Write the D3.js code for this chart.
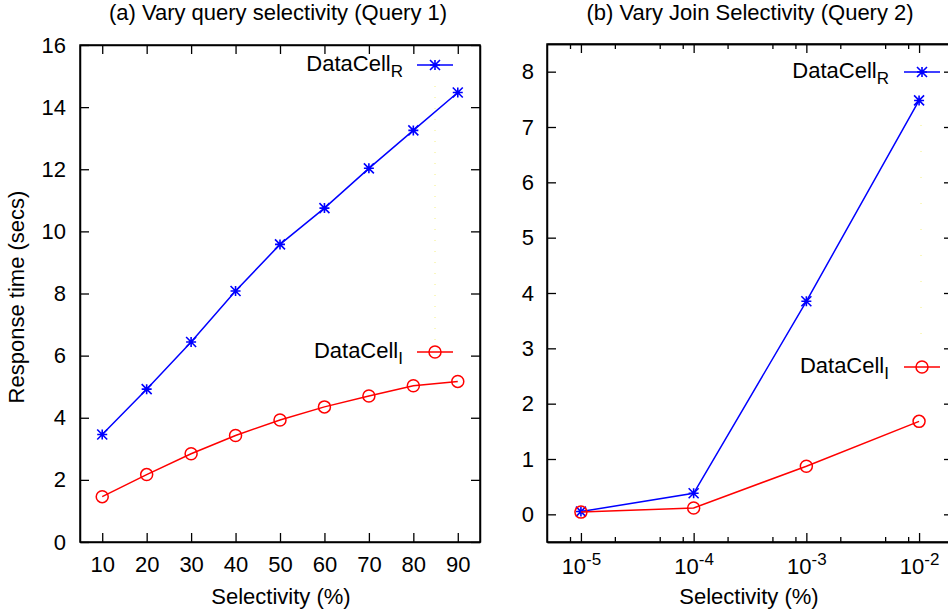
<!DOCTYPE html>
<html>
<head>
<meta charset="utf-8">
<script src="https://cdn.jsdelivr.net/npm/d3@7"></script>
<style>
  body { margin: 0; background: #fff; }
  svg { font-family: "Liberation Sans", Arial, sans-serif; }
</style>
</head>
<body>
<div id="chart"></div>
<script>
// panel (a): vary query selectivity
var selA = [10, 20, 30, 40, 50, 60, 70, 80, 90];
var cellR_A = [3.46, 4.92, 6.44, 8.08, 9.58, 10.75, 12.03, 13.25, 14.47];
var cellI_A = [1.46, 2.17, 2.84, 3.43, 3.93, 4.35, 4.70, 5.03, 5.17];
var yTicksA = [0, 2, 4, 6, 8, 10, 12, 14, 16];

// panel (b): vary join selectivity
var selB = [1e-5, 1e-4, 1e-3, 1e-2];
var cellR_B = [0.05, 0.38, 3.85, 7.48];
var cellI_B = [0.04, 0.115, 0.87, 1.68];
var yTicksB = [0, 1, 2, 3, 4, 5, 6, 7, 8];
var minorB = [8e-6, 2e-5, 5e-5, 8e-5, 2e-4, 5e-4, 8e-4, 2e-3, 5e-3, 8e-3];

var titles = ["(a) Vary query selectivity (Query 1)", "(b) Vary Join Selectivity (Query 2)"];

var svg = d3.select("#chart").append("svg")
    .attr("width", 948)
    .attr("height", 612);

var FS = 22;

function star(g, x, y, color) {
    var r = 5;
    var p = "M" + (x - r) + "," + y + "H" + (x + r) +
        "M" + x + "," + (y - r) + "V" + (y + r) +
        "M" + (x - r) + "," + (y - r) + "L" + (x + r) + "," + (y + r) +
        "M" + (x - r) + "," + (y + r) + "L" + (x + r) + "," + (y - r);
    g.append("path").attr("d", p).attr("stroke", color).attr("stroke-width", 1.6).attr("fill", "none");
}

function ring(g, x, y, color) {
    g.append("circle").attr("cx", x).attr("cy", y).attr("r", 6)
        .attr("stroke", color).attr("stroke-width", 1.5).attr("fill", "none");
}

function legendEntry(g, xText, y, sub, color, marker, xLine0, xLine1) {
    var t = g.append("text").attr("x", xText).attr("y", y + 5.5)
        .attr("text-anchor", "end").attr("font-size", FS);
    t.append("tspan").text("DataCell");
    t.append("tspan").attr("dy", 6).attr("font-size", 17).text(sub);
    g.append("line").attr("x1", xLine0).attr("x2", xLine1).attr("y1", y).attr("y2", y)
        .attr("stroke", color).attr("stroke-width", 1.5);
    marker(g, (xLine0 + xLine1) / 2, y, color);
}

function drawSeries(g, xs, ys, x, y, color, marker) {
    var pts = xs.map(function(d, i) { return [x(d), y(ys[i])]; });
    g.append("path").attr("d", d3.line()(pts))
        .attr("fill", "none").attr("stroke", color).attr("stroke-width", 1.5);
    pts.forEach(function(p) { marker(g, p[0], p[1], color); });
}

// ---------- panel (a) ----------
var xA = d3.scaleLinear().domain([5, 95]).range([80, 480]);
var yA = d3.scaleLinear().domain([0, 16]).range([542, 45]);

var gA = svg.append("g");

gA.append("g").attr("transform", "translate(0,542)")
    .call(d3.axisBottom(xA).tickValues(selA).tickSize(-9).tickPadding(14).tickSizeOuter(0));
gA.append("g").attr("transform", "translate(0,45)")
    .call(d3.axisTop(xA).tickValues(selA).tickSize(-9).tickFormat("").tickSizeOuter(0));
gA.append("g").attr("transform", "translate(80,0)")
    .call(d3.axisLeft(yA).tickValues(yTicksA).tickSize(-9).tickPadding(14).tickSizeOuter(0));
gA.append("g").attr("transform", "translate(480,0)")
    .call(d3.axisRight(yA).tickValues(yTicksA).tickSize(-9).tickFormat("").tickSizeOuter(0));

gA.append("rect").attr("x", 80).attr("y", 45).attr("width", 400).attr("height", 497)
    .attr("fill", "none").attr("stroke", "#000").attr("stroke-width", 1.5);

// faint dotted guide between legend entries
gA.append("line").attr("x1", 435).attr("x2", 435).attr("y1", 86).attr("y2", 340)
    .attr("stroke", "#f4f080").attr("stroke-width", 1).attr("stroke-dasharray", "1,10");

drawSeries(gA, selA, cellR_A, xA, yA, "#0000ff", star);
drawSeries(gA, selA, cellI_A, xA, yA, "#ff0000", ring);
legendEntry(gA, 403, 65, "R", "#0000ff", star, 417, 453);
legendEntry(gA, 403, 352, "I", "#ff0000", ring, 417, 453);

gA.append("text").attr("x", 278).attr("y", 20).attr("text-anchor", "middle")
    .attr("font-size", FS).text(titles[0]);
gA.append("text").attr("x", 281).attr("y", 604).attr("text-anchor", "middle")
    .attr("font-size", FS).text("Selectivity (%)");
gA.append("text").attr("transform", "translate(24,297) rotate(-90)").attr("text-anchor", "middle")
    .attr("font-size", FS).text("Response time (secs)");

// ---------- panel (b) ----------
var xB = d3.scaleLog().domain([5e-6, 2e-2]).range([547, 953]);
var yB = d3.scaleLinear().domain([-0.5, 8.5]).range([542, 44]);

var gB = svg.append("g");

var bx = gB.append("g").attr("transform", "translate(0,542)")
    .call(d3.axisBottom(xB).tickValues(selB).tickSize(-9).tickPadding(16).tickSizeOuter(0)
        .tickFormat(function() { return ""; }));
bx.selectAll(".tick text").each(function(d) {
    var t = d3.select(this);
    t.append("tspan").text("10");
    t.append("tspan").attr("dy", -9).attr("font-size", 17).text(Math.round(Math.log10(d)));
});
gB.append("g").attr("transform", "translate(0,542)")
    .call(d3.axisBottom(xB).tickValues(minorB).tickSize(-5).tickFormat("").tickSizeOuter(0));
gB.append("g").attr("transform", "translate(0,44)")
    .call(d3.axisTop(xB).tickValues(selB).tickSize(-9).tickFormat("").tickSizeOuter(0));
gB.append("g").attr("transform", "translate(0,44)")
    .call(d3.axisTop(xB).tickValues(minorB).tickSize(-5).tickFormat("").tickSizeOuter(0));
gB.append("g").attr("transform", "translate(547,0)")
    .call(d3.axisLeft(yB).tickValues(yTicksB).tickSize(-9).tickPadding(13).tickSizeOuter(0));
gB.append("g").attr("transform", "translate(953,0)")
    .call(d3.axisRight(yB).tickValues(yTicksB).tickSize(-9).tickFormat("").tickSizeOuter(0));

gB.append("rect").attr("x", 547).attr("y", 44).attr("width", 406).attr("height", 498)
    .attr("fill", "none").attr("stroke", "#000").attr("stroke-width", 1.5);

gB.append("line").attr("x1", 921).attr("x2", 921).attr("y1", 125).attr("y2", 345)
    .attr("stroke", "#f4f080").attr("stroke-width", 1).attr("stroke-dasharray", "1,25");

drawSeries(gB, selB, cellR_B, xB, yB, "#0000ff", star);
drawSeries(gB, selB, cellI_B, xB, yB, "#ff0000", ring);
legendEntry(gB, 889, 72, "R", "#0000ff", star, 904, 940);
legendEntry(gB, 889, 367, "I", "#ff0000", ring, 904, 940);

gB.append("text").attr("x", 750).attr("y", 20).attr("text-anchor", "middle")
    .attr("font-size", FS).text(titles[1]);
gB.append("text").attr("x", 749).attr("y", 604).attr("text-anchor", "middle")
    .attr("font-size", FS).text("Selectivity (%)");

svg.selectAll(".tick text").attr("font-size", FS).attr("fill", "#000");
svg.selectAll(".domain").attr("stroke", "#000").attr("stroke-width", 1.5);
svg.selectAll(".tick line").attr("stroke", "#000").attr("stroke-width", 1.3);
</script>
</body>
</html>
